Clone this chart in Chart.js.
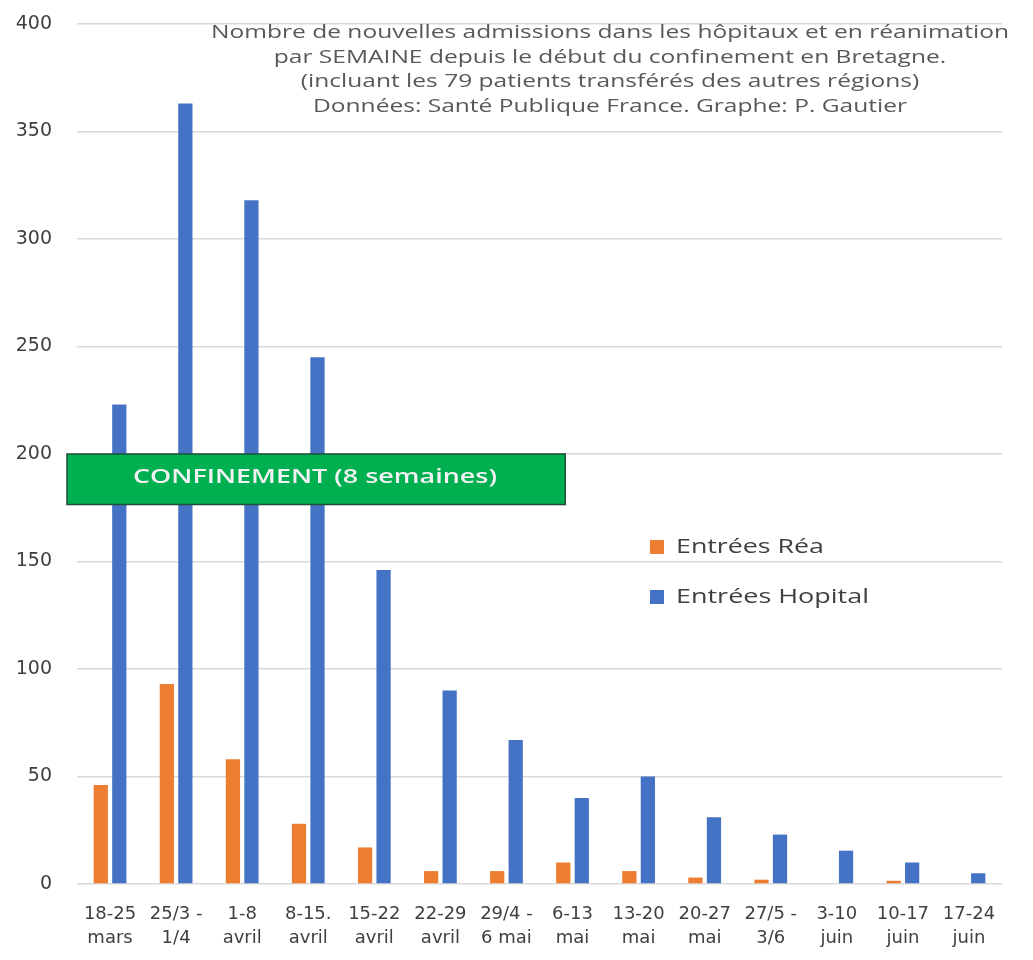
<!DOCTYPE html>
<html>
<head>
<meta charset="utf-8">
<script src="https://cdn.jsdelivr.net/npm/chart.js@4.4.1/dist/chart.umd.min.js"></script>
<style>
  html, body { margin: 0; padding: 0; background: #fff; }
  #wrap { width: 1033px; height: 960px; }
</style>
</head>
<body>
<div id="wrap"><canvas id="admissions-chart" width="1033" height="960"></canvas></div>
<script>
// semaines depuis le début du confinement
const weeks = [
  ['18-25', 'mars'], ['25/3 -', '1/4'], ['1-8', 'avril'], ['8-15.', 'avril'],
  ['15-22', 'avril'], ['22-29', 'avril'], ['29/4 -', '6 mai'], ['6-13', 'mai'],
  ['13-20', 'mai'], ['20-27', 'mai'], ['27/5 -', '3/6'], ['3-10', 'juin'],
  ['10-17', 'juin'], ['17-24', 'juin']
];
const entreesRea = [46, 93, 58, 28, 17, 6, 6, 10, 6, 3, 2, 0, 1.5, 0];
const entreesHopital = [223, 363, 318, 245, 146, 90, 67, 40, 50, 31, 23, 15.5, 10, 5];
const yTicks = [0, 50, 100, 150, 200, 250, 300, 350, 400];

const titleLines = [
  'Nombre de nouvelles admissions dans les hôpitaux et en réanimation',
  'par SEMAINE depuis le début du confinement en Bretagne.',
  '(incluant les 79 patients transférés des autres régions)',
  'Données: Santé Publique France. Graphe: P. Gautier'
];
const confinementLabel = 'CONFINEMENT (8 semaines)';
const confinementRange = [176.5, 200];   // hauteur du bandeau, en valeurs de l'axe
const confinementEnd = 6.89;             // fin du bandeau, en index de semaine

const ORANGE = '#ED7D31';
const BLUE = '#4472C4';
const GREY_TEXT = '#595959';

// draws a line of text squeezed/stretched to a given width
function fitText(ctx, text, cx, cy, width) {
  const w = ctx.measureText(text).width;
  const sx = width / w;
  ctx.save();
  ctx.translate(cx, cy);
  ctx.scale(sx, 1);
  ctx.fillText(text, -w / 2, 0);
  ctx.restore();
}

const overlay = {
  id: 'overlay',
  afterDatasetsDraw(chart) {
    const ctx = chart.ctx;
    const area = chart.chartArea;
    const x = chart.scales.x;
    const y = chart.scales.y;

    // titre
    ctx.save();
    ctx.fillStyle = GREY_TEXT;
    ctx.font = '18px "Open Sans"';
    ctx.textBaseline = 'middle';
    ctx.textAlign = 'left';
    const scaleW = 798 / ctx.measureText(titleLines[0]).width;
    titleLines.forEach((line, i) => {
      const w = ctx.measureText(line).width * scaleW;
      fitText(ctx, line, 610, 33 + i * 24.6, w);
    });
    ctx.restore();

    // bandeau confinement
    const top = y.getPixelForValue(confinementRange[1]);
    const bottom = y.getPixelForValue(confinementRange[0]);
    const left = area.left - 10;
    const right = x.getPixelForValue(confinementEnd);
    ctx.save();
    ctx.fillStyle = '#00B050';
    ctx.fillRect(left, top, right - left, bottom - top);
    ctx.strokeStyle = '#1F4E3A';
    ctx.lineWidth = 1.5;
    ctx.strokeRect(left, top, right - left, bottom - top);
    ctx.fillStyle = '#F2F2F2';
    ctx.font = '600 20px "Open Sans"';
    ctx.textBaseline = 'middle';
    fitText(ctx, confinementLabel, 315, (top + bottom) / 2 - 2, 364);
    ctx.restore();

    // légende
    const items = [
      { text: chart.data.datasets[0].label, color: ORANGE, cy: 547, w: 148 },
      { text: chart.data.datasets[1].label, color: BLUE, cy: 597, w: 193 }
    ];
    ctx.save();
    ctx.font = '20px "Open Sans"';
    ctx.textBaseline = 'middle';
    items.forEach(it => {
      ctx.fillStyle = it.color;
      ctx.fillRect(650, it.cy - 7, 14, 14);
      ctx.fillStyle = '#404040';
      fitText(ctx, it.text, 676 + it.w / 2, it.cy, it.w);
    });
    ctx.restore();
  }
};

const ctx = document.getElementById('admissions-chart').getContext('2d');
new Chart(ctx, {
  type: 'bar',
  data: {
    labels: weeks,
    datasets: [
      { label: 'Entrées Réa', data: entreesRea, backgroundColor: ORANGE },
      { label: 'Entrées Hopital', data: entreesHopital, backgroundColor: BLUE }
    ]
  },
  options: {
    responsive: false,
    animation: false,
    categoryPercentage: 0.56,
    barPercentage: 0.77,
    layout: { padding: { top: 24, right: 31, left: 0, bottom: 0 } },
    plugins: {
      legend: { display: false },
      title: { display: false },
      tooltip: { enabled: false }
    },
    scales: {
      x: {
        grid: { display: false },
        border: { display: false },
        ticks: {
          color: '#404040',
          font: { family: 'DejaVu Sans', size: 18, lineHeight: 1.3 },
          padding: 11,
          maxRotation: 0,
          autoSkip: false
        },
        afterFit(scale) { scale.height = 76; }
      },
      y: {
        min: 0,
        max: 400,
        afterBuildTicks(scale) { scale.ticks = yTicks.map(v => ({ value: v })); },
        // invisible tick marks keep the labels away from the plot without extra top padding
        grid: { color: '#D9D9D9', lineWidth: 1.5, drawTicks: true, tickLength: 24, tickColor: 'rgba(0,0,0,0)' },
        border: { display: false },
        ticks: {
          color: '#404040',
          font: { family: 'DejaVu Sans', size: 19 },
          padding: 1
        },
        afterFit(scale) { scale.width = 77; }
      }
    }
  },
  plugins: [overlay]
});
</script>
</body>
</html>
